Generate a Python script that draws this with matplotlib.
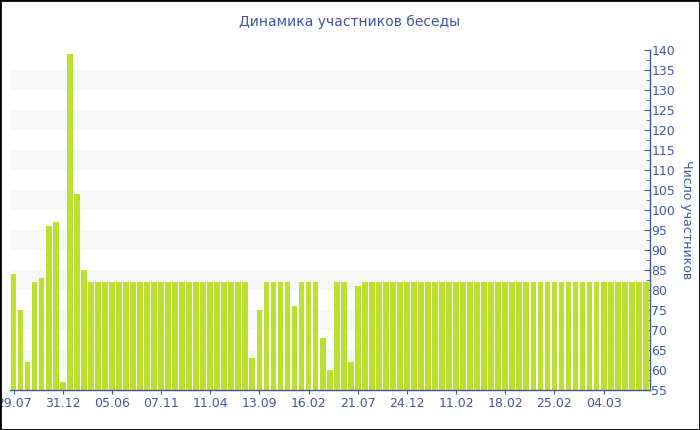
import matplotlib
matplotlib.use("Agg")
import matplotlib.pyplot as plt
from matplotlib.patches import Rectangle
from matplotlib.ticker import MultipleLocator

values = [84, 75, 62, 82, 83, 96, 97, 57, 139, 104, 85] + [82] * 23 + \
         [63, 75, 82, 82, 82, 82, 76, 82, 82, 82, 68, 60, 82, 82, 62, 81] + [82] * 41
tick_positions = [0, 7, 14, 21, 28, 35, 42, 49, 56, 63, 70, 77, 84]
tick_labels = ["29.07", "31.12", "05.06", "07.11", "11.04", "13.09", "16.02",
               "21.07", "24.12", "11.02", "18.02", "25.02", "04.03"]
title = "Динамика участников беседы"
ylabel = "Число участников"

blue = "#3f56a0"
bar_color = "#bde030"

fig = plt.figure(figsize=(7, 4.3), dpi=100)
ax = fig.add_axes([10 / 700, 1 - 390 / 430, 640 / 700, 340 / 430])

n = len(values)
ax.bar(range(n), values, width=0.82, color=bar_color, zorder=2)
ax.set_xlim(-0.5, n - 0.4)
ax.set_ylim(55, 140)

for lo in range(60, 140, 10):
    ax.axhspan(lo, lo + 5, color="#f7f7f7", zorder=0, lw=0)

for s in ["left", "top"]:
    ax.spines[s].set_visible(False)
for s in ["right", "bottom"]:
    ax.spines[s].set_color(blue)
    ax.spines[s].set_linewidth(1)

ax.yaxis.tick_right()
ax.yaxis.set_label_position("right")
ax.yaxis.set_major_locator(MultipleLocator(5))
ax.yaxis.set_minor_locator(MultipleLocator(2.5))
ax.tick_params(axis="y", which="major", direction="in", length=4, color=blue,
               labelcolor=blue, labelsize=9, pad=1)
ax.tick_params(axis="y", which="minor", direction="in", length=3, color=blue)
ax.set_xticks(tick_positions)
ax.set_xticklabels(tick_labels)
ax.tick_params(axis="x", direction="out", length=3, color=blue, labelcolor=blue,
               labelsize=9, pad=2)
ax.set_ylabel(ylabel, rotation=270, color=blue, fontsize=9, labelpad=13)
ax.set_facecolor("none")

fig.text(0.5, 1 - 22 / 430, title, ha="center", va="center", color=blue, fontsize=10)
fig.patches.append(Rectangle((0, 0), 1, 1, transform=fig.transFigure, fill=False,
                             edgecolor="black", linewidth=2))

fig.savefig("out.png", dpi=100)
